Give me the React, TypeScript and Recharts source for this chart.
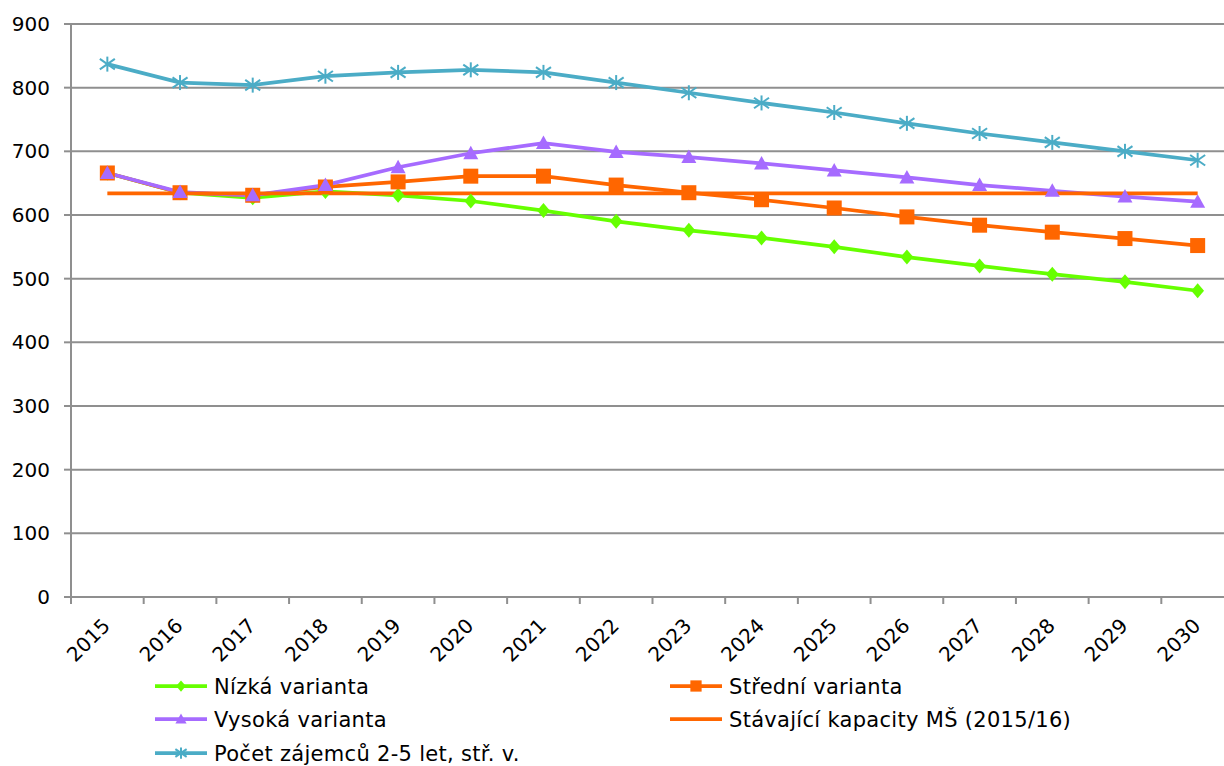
import React from "react";
import { LineChart, Line, XAxis, YAxis, CartesianGrid } from "recharts";

const years = ["2015", "2016", "2017", "2018", "2019", "2020", "2021", "2022", "2023", "2024", "2025", "2026", "2027", "2028", "2029", "2030"];
const nizka = [666, 635, 627, 637, 631, 622, 607, 590, 576, 564, 550, 534, 520, 507, 495, 481];
const stredni = [666, 635, 631, 644, 652, 661, 661, 647, 635, 624, 611, 597, 584, 573, 563, 552];
const vysoka = [666, 636, 631, 647, 675, 697, 713, 699, 691, 681, 670, 659, 647, 638, 629, 621];
const kapacity = [634, 634, 634, 634, 634, 634, 634, 634, 634, 634, 634, 634, 634, 634, 634, 634];
const pocet = [837, 808, 804, 818, 824, 828, 824, 808, 792, 776, 761, 744, 728, 714, 700, 686];
const yTicks = [0, 100, 200, 300, 400, 500, 600, 700, 800, 900];

const SERIES = [
  { key: "nizka", name: "Nízká varianta", color: "#66ff00", marker: "diamond" },
  { key: "stredni", name: "Střední varianta", color: "#ff6600", marker: "square" },
  { key: "vysoka", name: "Vysoká varianta", color: "#a66bff", marker: "triangle" },
  { key: "kapacity", name: "Stávající kapacity MŠ (2015/16)", color: "#ff6600", marker: "none" },
  { key: "pocet", name: "Počet zájemců 2-5 let, stř. v.", color: "#4bacc6", marker: "star" },
];

const data = years.map((year, i) => ({
  year,
  nizka: nizka[i],
  stredni: stredni[i],
  vysoka: vysoka[i],
  kapacity: kapacity[i],
  pocet: pocet[i],
}));

const FONT = "'DejaVu Sans', Verdana, sans-serif";
const GRID = "#8f8f8f";
const W = 1234;
const H = 766;
const LEFT = 71;
const BAND = (W - LEFT) / years.length;

function Marker({ type, cx, cy, color, s = 1 }: any) {
  if (cx == null || cy == null) return null;
  if (type === "diamond") {
    const r = 7.5 * s;
    return <path d={`M${cx},${cy - r}L${cx + r * 0.85},${cy}L${cx},${cy + r}L${cx - r * 0.85},${cy}Z`} fill={color} />;
  }
  if (type === "square") {
    const r = 7.5 * s;
    return <rect x={cx - r} y={cy - r} width={2 * r} height={2 * r} fill={color} />;
  }
  if (type === "triangle") {
    const r = 7.5 * s;
    return <path d={`M${cx},${cy - r}L${cx + r},${cy + r * 0.8}L${cx - r},${cy + r * 0.8}Z`} fill={color} />;
  }
  if (type === "star") {
    const r = 7.5 * s;
    return (
      <g stroke={color} strokeWidth={2}>
        <line x1={cx} y1={cy - r} x2={cx} y2={cy + r} />
        <line x1={cx - r} y1={cy - r * 0.7} x2={cx + r} y2={cy + r * 0.7} />
        <line x1={cx - r} y1={cy + r * 0.7} x2={cx + r} y2={cy - r * 0.7} />
      </g>
    );
  }
  return null;
}

function XTick({ x, y, payload, index }: any) {
  return (
    <g>
      <line x1={x - BAND / 2} x2={x - BAND / 2} y1={y} y2={y + 7} stroke={GRID} strokeWidth={2} />
      {index === years.length - 1 && (
        <line x1={x + BAND / 2} x2={x + BAND / 2} y1={y} y2={y + 7} stroke={GRID} strokeWidth={2} />
      )}
      <text
        transform={`translate(${x + 4},${y + 30}) rotate(-45)`}
        textAnchor="end"
        fontSize={20}
        fontFamily={FONT}
        fill="#000"
      >
        {payload.value}
      </text>
    </g>
  );
}

function ChartLegend() {
  const rows = [686, 719, 753];
  const cols = [155, 670];
  return (
    <svg width={1224} height={H} style={{ position: "absolute", left: 0, top: 0, pointerEvents: "none" }}>
      {SERIES.map((s, i) => {
        const lx = cols[i % 2];
        const ly = rows[Math.floor(i / 2)];
        return (
          <g key={s.key}>
            <line x1={lx} x2={lx + 52} y1={ly} y2={ly} stroke={s.color} strokeWidth={3.75} />
            <Marker type={s.marker} cx={lx + 26} cy={ly} color={s.color} s={0.75} />
            <text x={lx + 59} y={ly + 7.5} fontSize={21} letterSpacing={0.3} fontFamily={FONT} fill="#000">
              {s.name}
            </text>
          </g>
        );
      })}
    </svg>
  );
}

export default function App() {
  return (
    <div style={{ position: "absolute", left: 0, top: 0, width: 1224, height: H, overflow: "hidden", background: "#fff" }}>
      <LineChart width={W} height={H} data={data} margin={{ top: 24, right: 0, bottom: 139, left: 0 }}>
        <CartesianGrid vertical={false} stroke={GRID} strokeWidth={2} />
        <XAxis
          dataKey="year"
          interval={0}
          height={30}
          padding={{ left: BAND / 2, right: BAND / 2 }}
          tickLine={false}
          tickSize={0}
          tickMargin={0}
          axisLine={{ stroke: GRID, strokeWidth: 2 }}
          tick={<XTick />}
        />
        <YAxis
          width={LEFT}
          domain={[0, 900]}
          ticks={yTicks}
          interval={0}
          tickSize={7}
          tickMargin={14}
          axisLine={{ stroke: GRID, strokeWidth: 2 }}
          tickLine={{ stroke: GRID, strokeWidth: 2 }}
          tick={{ fontSize: 20, fontFamily: FONT, fill: "#000" }}
        />
        {SERIES.map((s) => (
          <Line
            key={s.key}
            dataKey={s.key}
            name={s.name}
            stroke={s.color}
            strokeWidth={3.75}
            isAnimationActive={false}
            dot={(p: any) => <Marker key={`${s.key}-${p.index}`} type={s.marker} cx={p.cx} cy={p.cy} color={s.color} />}
            activeDot={false}
          />
        ))}
      </LineChart>
      <ChartLegend />
    </div>
  );
}
